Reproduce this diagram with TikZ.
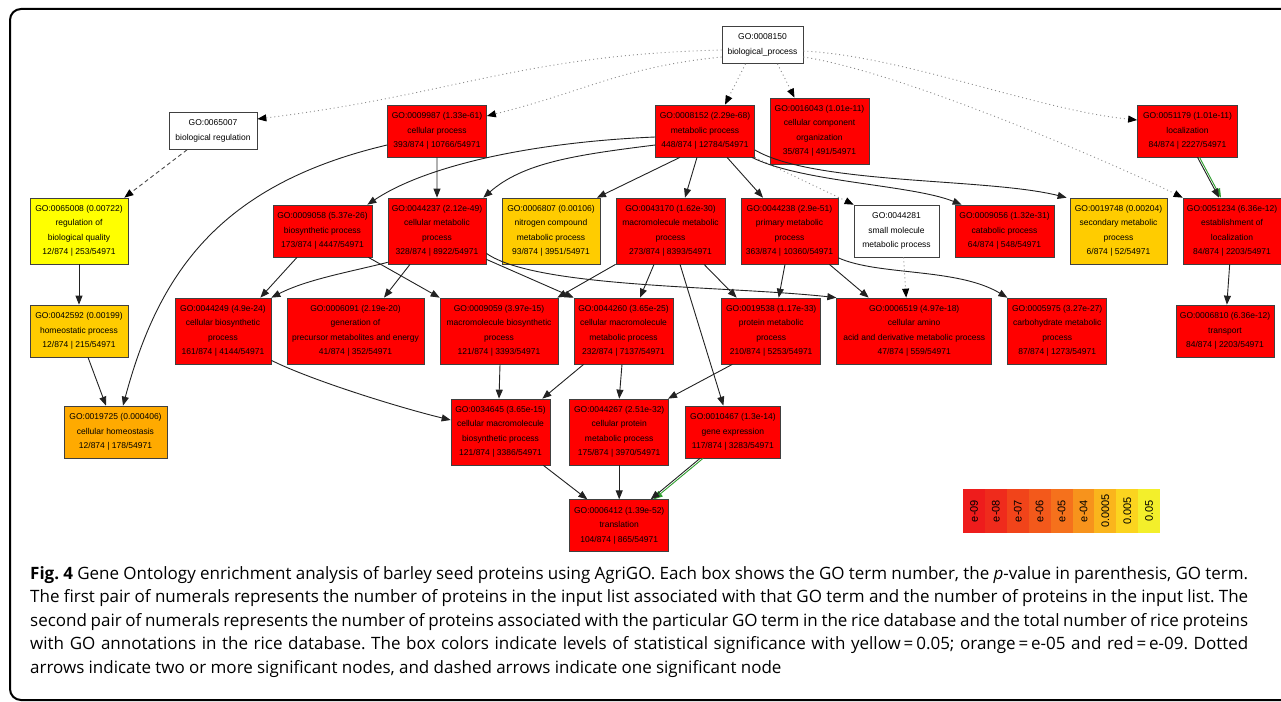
\documentclass[tikz,border=0pt]{standalone}
\usepackage{fontspec}
\usepackage{xcolor}
\usetikzlibrary{positioning,arrows.meta}

\newfontfamily\gofamily{Liberation Sans}
\newfontfamily\capfamily{Open Sans}
\newcommand{\gofont}{\gofamily\fontsize{8.5}{14.5}\selectfont}
\newcommand{\legfont}{\gofamily\fontsize{11}{12}\selectfont}
\newcommand{\capfont}{\capfamily\fontsize{17}{23.5}\selectfont\frenchspacing\spaceskip=0.25em plus 0.3em minus 0.06em}
\newcommand{\capline}[1]{\makebox[1218pt][s]{#1}}

\definecolor{gored}{HTML}{FF0000}
\definecolor{goyellow}{HTML}{FFFF00}
\definecolor{gogold}{HTML}{FFCC00}
\definecolor{goorange}{HTML}{FFAA00}
\definecolor{goline}{HTML}{222222}
\definecolor{gogreen}{HTML}{2E9E2E}
\definecolor{lgA}{HTML}{EE1C1C}
\definecolor{lgB}{HTML}{EF2B1C}
\definecolor{lgC}{HTML}{F1441A}
\definecolor{lgD}{HTML}{F3591B}
\definecolor{lgE}{HTML}{F5711C}
\definecolor{lgF}{HTML}{F7931C}
\definecolor{lgG}{HTML}{FAB51C}
\definecolor{lgH}{HTML}{FBD41F}
\definecolor{lgI}{HTML}{F3EF2B}

\begin{document}
\begin{tikzpicture}[x=1pt, y=-1pt, >={Triangle[length=9pt,width=7pt]}, node distance=15.3pt,
  goterm/.style={rectangle, draw=black!75, line width=0.7pt, align=center, font=\gofont, inner sep=1pt, minimum height=52pt, text=black},
  tall/.style={minimum height=66pt},
  sigred/.style={goterm, fill=gored},
  sigyellow/.style={goterm, fill=goyellow},
  siggold/.style={goterm, fill=gogold},
  sigorange/.style={goterm, fill=goorange},
  nosig/.style={goterm, fill=white, minimum height=37pt},
  solidarc/.style={->, draw=goline, line width=0.9pt},
  dotarc/.style={-{Triangle[length=9pt,width=7pt,color=black]}, draw=black!45, line width=0.9pt, dash pattern=on 1pt off 3pt},
  dasharc/.style={-{Triangle[length=9pt,width=7pt,color=black]}, draw=black!70, line width=0.9pt, dash pattern=on 4pt off 3pt},
  greenarc/.style={->, draw=gogreen, line width=0.9pt},
  legcell/.style={rotate=90, minimum width=44pt, minimum height=21.9pt, inner sep=0pt, font=\legfont, text=black}]

\useasboundingbox (0,0) rectangle (1281,701);
\clip (0,0) rectangle (1281,701);
\draw[line width=2pt, rounded corners=11pt] (10,9) rectangle (1310,700);

% top level
\node[nosig, minimum width=81pt] (bp) at (762.5,45) {GO:0008150\\biological\_process};
\node[nosig, minimum width=88pt] (breg) at (213,131) {GO:0065007\\biological regulation};
\node[sigred, minimum width=99pt] (cell) at (437,131) {GO:0009987 (1.33e-61)\\cellular process\\393/874 | 10766/54971};
\node[sigred, minimum width=99pt] (met) at (705,131) {GO:0008152 (2.29e-68)\\metabolic process\\448/874 | 12784/54971};
\node[sigred, tall, minimum width=99pt] (ccorg) at (819.5,131) {GO:0016043 (1.01e-11)\\cellular component\\organization\\35/874 | 491/54971};
\node[sigred, minimum width=100pt] (loc) at (1187.5,131) {GO:0051179 (1.01e-11)\\localization\\84/874 | 2227/54971};

% second row
\node[sigyellow, tall, minimum width=98pt] (rbq) at (79,231) {GO:0065008 (0.00722)\\regulation of\\biological quality\\12/874 | 253/54971};
\node[sigred, minimum width=99pt] (biosyn) at (322.5,231) {GO:0009058 (5.37e-26)\\biosynthetic process\\173/874 | 4447/54971};
\node[sigred, tall, minimum width=98pt, right=of biosyn] (cmet) {GO:0044237 (2.12e-49)\\cellular metabolic\\process\\328/874 | 8922/54971};
\node[siggold, tall, minimum width=98pt, right=of cmet] (nitro) {GO:0006807 (0.00106)\\nitrogen compound\\metabolic process\\93/874 | 3951/54971};
\node[sigred, tall, minimum width=109pt, right=of nitro] (mmet) {GO:0043170 (1.62e-30)\\macromolecule metabolic\\process\\273/874 | 8393/54971};
\node[sigred, tall, minimum width=97pt, right=of mmet] (prim) {GO:0044238 (2.9e-51)\\primary metabolic\\process\\363/874 | 10360/54971};
\node[nosig, minimum height=52pt, minimum width=85pt, right=of prim] (smol) {GO:0044281\\small molecule\\metabolic process};
\node[sigred, minimum width=99pt, right=of smol] (catab) {GO:0009056 (1.32e-31)\\catabolic process\\64/874 | 548/54971};
\node[siggold, tall, minimum width=97pt, right=of catab] (second) {GO:0019748 (0.00204)\\secondary metabolic\\process\\6/874 | 52/54971};
\node[sigred, tall, minimum width=98pt, right=of second] (estab) {GO:0051234 (6.36e-12)\\establishment of\\localization\\84/874 | 2203/54971};

% third row
\node[siggold, minimum width=98pt] (homeo) at (79,331) {GO:0042592 (0.00199)\\homeostatic process\\12/874 | 215/54971};
\node[sigred, tall, minimum width=96pt] (cbio) at (223,331) {GO:0044249 (4.9e-24)\\cellular biosynthetic\\process\\161/874 | 4144/54971};
\node[sigred, tall, minimum width=137pt, right=of cbio] (genprec) {GO:0006091 (2.19e-20)\\generation of\\precursor metabolites and energy\\41/874 | 352/54971};
\node[sigred, tall, minimum width=118pt, right=of genprec] (mbio) {GO:0009059 (3.97e-15)\\macromolecule biosynthetic\\process\\121/874 | 3393/54971};
\node[sigred, tall, minimum width=99pt, right=of mbio] (cmmet) {GO:0044260 (3.65e-25)\\cellular macromolecule\\metabolic process\\232/874 | 7137/54971};
\node[sigred, tall, minimum width=99pt, right=48pt of cmmet] (prot) {GO:0019538 (1.17e-33)\\protein metabolic\\process\\210/874 | 5253/54971};
\node[sigred, tall, minimum width=155pt, right=of prot] (amino) {GO:0006519 (4.97e-18)\\cellular amino\\acid and derivative metabolic process\\47/874 | 559/54971};
\node[sigred, tall, minimum width=99pt, right=of amino] (carb) {GO:0005975 (3.27e-27)\\carbohydrate metabolic\\process\\87/874 | 1273/54971};
\node[sigred, minimum width=98pt] (transp) at (1225,331) {GO:0006810 (6.36e-12)\\transport\\84/874 | 2203/54971};

% fourth row
\node[sigorange, minimum width=103pt] (chomeo) at (115.5,432) {GO:0019725 (0.000406)\\cellular homeostasis\\12/874 | 178/54971};
\node[sigred, tall, minimum width=99pt] (cmbio) at (500.5,432) {GO:0034645 (3.65e-15)\\cellular macromolecule\\biosynthetic process\\121/874 | 3386/54971};
\node[sigred, tall, minimum width=99pt, right=19pt of cmbio] (cprot) {GO:0044267 (2.51e-32)\\cellular protein\\metabolic process\\175/874 | 3970/54971};
\node[sigred, minimum width=95pt, right=16pt of cprot] (gexp) {GO:0010467 (1.3e-14)\\gene expression\\117/874 | 3283/54971};
\node[sigred, minimum width=99pt, below=34pt of cprot] (transl) {GO:0006412 (1.39e-52)\\translation\\104/874 | 865/54971};

% dotted arcs
\draw[dotarc] ([yshift=-5pt]bp.west) .. controls +(-200,5) and +(200,-25) .. ([yshift=12pt]breg.east);
\draw[dotarc] ([yshift=-12pt]bp.west) .. controls +(-100,10) and +(100,-25) .. ([yshift=15pt]cell.east);
\draw[dotarc] ([yshift=-6pt]bp.east) .. controls +(100,5) and +(-100,-10) .. ([yshift=11pt]loc.west);
\draw[dotarc] ([yshift=-12pt]bp.east) .. controls +(100,15) and +(-60,-30) .. (estab.north west);
\draw[dotarc] ([xshift=-17pt]bp.south) -- ([xshift=20pt]met.north);
\draw[dotarc] ([xshift=15pt]bp.south) -- ([xshift=-25pt]ccorg.north);
\draw[dotarc] (met.south east) -- (smol.north west);
\draw[dotarc] ([xshift=7pt]smol.south) -- ([xshift=-8pt]amino.north);

% dashed arc
\draw[dasharc] ([xshift=-26pt]breg.south) -- ([xshift=-4pt]rbq.north east);

% solid arcs
\draw[solidarc] (rbq) -- (homeo);
\draw[solidarc] ([xshift=9pt]homeo.south) -- ([xshift=-9.5pt]chomeo.north);
\draw[solidarc] (cell) -- (cmet);
\draw[solidarc] ([xshift=-25pt]met.south) -- ([xshift=46pt]nitro.north);
\draw[solidarc] ([xshift=-8pt]met.south) -- ([xshift=14.5pt]mmet.north);
\draw[solidarc] ([xshift=22pt]met.south) -- ([xshift=-26.5pt]prim.north);
\draw[solidarc] ([xshift=-25.5pt]biosyn.south) -- ([xshift=-11pt]cbio.north east);
\draw[solidarc] ([xshift=-4pt]biosyn.south east) -- (mbio.north west);
\draw[solidarc] ([xshift=-27pt]cmet.south) -- ([xshift=28.5pt]genprec.north);
\draw[solidarc] ([yshift=5pt]cmet.south east) -- (cmmet.north west);
\draw[solidarc] (mmet.south west) -- ([xshift=-1pt]mbio.north east);
\draw[solidarc] ([xshift=-16.5pt]mmet.south) -- ([xshift=16.5pt]cmmet.north);
\draw[solidarc] ([xshift=33.5pt]mmet.south) -- ([xshift=-34.5pt]prot.north);
\draw[solidarc] ([xshift=9.5pt]mmet.south) -- ([xshift=-9.5pt]gexp.north);
\draw[solidarc] ([xshift=-4.5pt]prim.south) -- ([xshift=7.5pt]prot.north);
\draw[solidarc] ([xshift=-9pt]prim.south east) -- ([xshift=-45.5pt]amino.north);
\draw[solidarc] ([xshift=1pt]mbio.south) -- ([xshift=-1.5pt]cmbio.north);
\draw[solidarc] ([xshift=10pt]cmmet.south west) -- ([xshift=-8pt]cmbio.north east);
\draw[solidarc] ([xshift=-1.5pt]cmmet.south) -- (cprot.north);
\draw[solidarc] ([xshift=11pt]prot.south west) -- ([xshift=-1pt]cprot.north east);
\draw[solidarc] ([xshift=-7pt]cmbio.south east) -- ([xshift=18pt]transl.north west);
\draw[solidarc] (cprot) -- (transl);
\draw[solidarc] (estab) -- (transp);
\draw[solidarc] ([yshift=-14pt]cell.west) .. controls +(-170,40) and +(35,-130) .. ([xshift=7.5pt]chomeo.north);
\draw[solidarc] ([yshift=-6pt]met.west) .. controls +(-120,5) and +(60,-40) .. ([xshift=-5pt]biosyn.north east);
\draw[solidarc] ([yshift=-14pt]met.west) .. controls +(-80,10) and +(40,-35) .. ([xshift=-3pt]cmet.north east);
\draw[solidarc] ([xshift=-3pt]met.south east) .. controls +(50,25) and +(-50,-20) .. ([xshift=7pt]catab.north west);
\draw[solidarc] ([yshift=-19pt]met.east) .. controls +(60,35) and +(-80,-20) .. ([xshift=-3pt]second.north west);
\draw[solidarc] ([yshift=6.5pt]prim.south east) .. controls +(40,18) and +(-50,-30) .. (carb.north west);
\draw[solidarc] ([yshift=2pt]cmet.south west) .. controls +(-40,10) and +(35,-18) .. (cbio.north east);
\draw[solidarc] ([yshift=11pt]cmet.south east) .. controls +(50,35) and +(-110,-12) .. (amino.north west);
\draw[solidarc] ([yshift=4pt]cbio.south east) .. controls +(40,20) and +(-50,-12) .. ([yshift=12pt]cmbio.west);

% green doubled arcs
\draw[greenarc] ([xshift=12pt]loc.south) -- ([xshift=-11pt]estab.north);
\draw[solidarc] ([xshift=10pt]loc.south) -- ([xshift=-13pt]estab.north);
\draw[greenarc] ([xshift=18pt]gexp.south west) -- ([xshift=34.5pt]transl.north);
\draw[solidarc] ([xshift=15pt]gexp.south west) -- ([xshift=31.5pt]transl.north);

% colour key
\foreach \lab/\col [count=\i from 0] in {e-09/lgA, e-08/lgB, e-07/lgC, e-06/lgD, e-05/lgE, e-04/lgF, 0.0005/lgG, 0.005/lgH, 0.05/lgI}
  \node[legcell, fill=\col] (leg\i) at (973.95+21.9*\i, 511) {\lab};

% caption
\node[anchor=north west, inner sep=0pt, align=left, font=\capfont] (caption) at (30,566) {%
\capline{\textbf{Fig. 4} Gene Ontology enrichment analysis of barley seed proteins using AgriGO. Each box shows the GO term number, the \textit{p}-value in parenthesis, GO term.}\\
\capline{The first pair of numerals represents the number of proteins in the input list associated with that GO term and the number of proteins in the input list. The}\\
\capline{second pair of numerals represents the number of proteins associated with the particular GO term in the rice database and the total number of rice proteins}\\
\capline{with GO annotations in the rice database. The box colors indicate levels of statistical significance with yellow\,=\,0.05; orange\,=\,e-05 and red\,=\,e-09. Dotted}\\
arrows indicate two or more significant nodes, and dashed arrows indicate one significant node};
\end{tikzpicture}
\end{document}
